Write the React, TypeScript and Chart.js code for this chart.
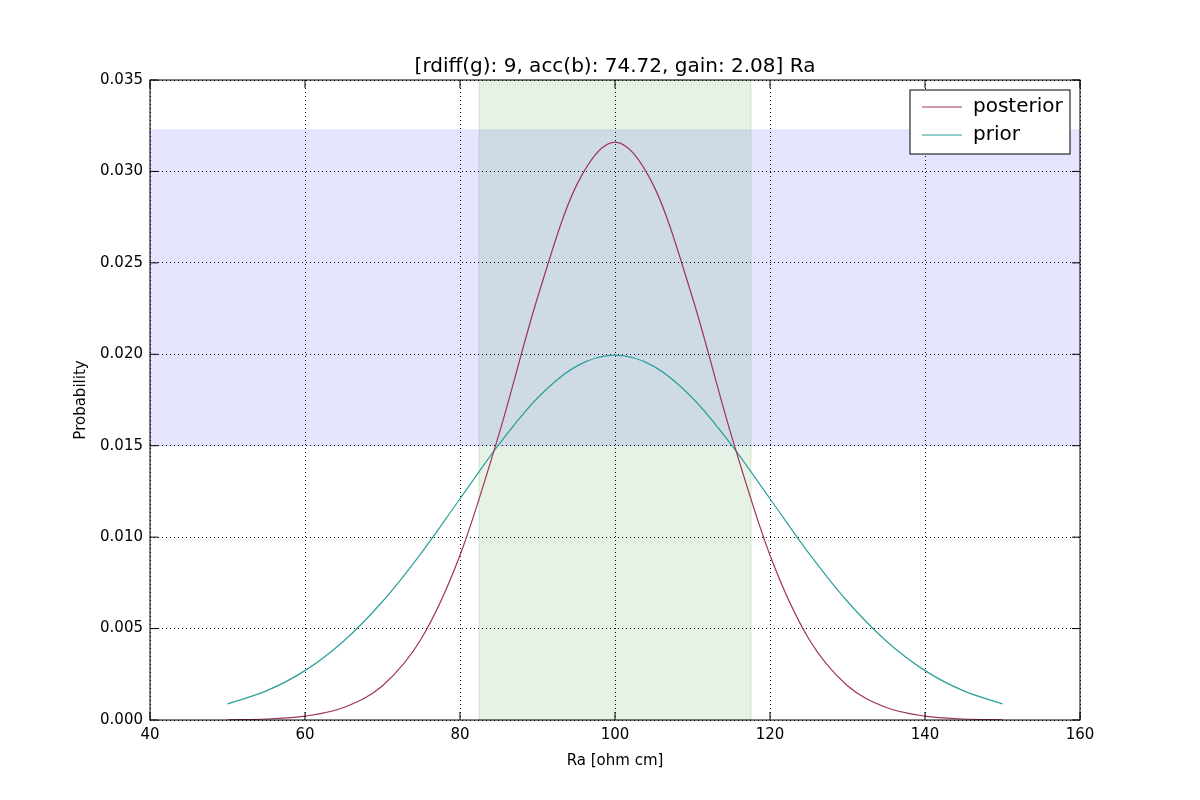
import { useEffect, useRef } from "react";
import { Chart, registerables } from "chart.js";

Chart.register(...registerables);

const xs = [50, 55, 60, 65, 70, 75, 80, 85, 90, 95, 100, 105, 110, 115, 120, 125, 130, 135, 140, 145, 150];
const posterior = [
  0.000012, 0.000055, 0.00021, 0.00068, 0.00187, 0.00444, 0.00901, 0.01559, 0.02309, 0.02921, 0.0316,
  0.02921, 0.02309, 0.01559, 0.00901, 0.00444, 0.00187, 0.00068, 0.00021, 0.000055, 0.000012,
];
const prior = [
  0.00088, 0.00159, 0.0027, 0.00432, 0.00648, 0.00913, 0.0121, 0.01506, 0.01761, 0.01934, 0.01995,
  0.01934, 0.01761, 0.01506, 0.0121, 0.00913, 0.00648, 0.00432, 0.0027, 0.00159, 0.00088,
];
const xBand = [82.45, 117.55];
const yBand = [0.015, 0.03227];
const titleText = "[rdiff(g): 9, acc(b): 74.72, gain: 2.08] Ra";

const FONT = "DejaVu Sans";

const bands = {
  id: "bands",
  beforeDatasetsDraw(chart: any) {
    const { ctx, chartArea: a, scales } = chart;
    const x = scales.x, y = scales.y;
    ctx.save();
    const yt = y.getPixelForValue(yBand[1]), yb = y.getPixelForValue(yBand[0]);
    ctx.fillStyle = "rgba(0,0,255,0.1)";
    ctx.fillRect(a.left, yt, a.right - a.left, yb - yt);
    ctx.strokeStyle = "rgba(0,0,255,0.1)";
    ctx.strokeRect(a.left, yt, a.right - a.left, yb - yt);
    const xl = x.getPixelForValue(xBand[0]), xr = x.getPixelForValue(xBand[1]);
    ctx.fillStyle = "rgba(0,128,0,0.1)";
    ctx.fillRect(xl, a.top, xr - xl, a.bottom - a.top);
    ctx.strokeStyle = "rgba(0,128,0,0.15)";
    ctx.strokeRect(xl, a.top, xr - xl, a.bottom - a.top);
    ctx.restore();
  },
  afterDraw(chart: any) {
    const { ctx, chartArea: a, scales } = chart;
    ctx.save();
    ctx.strokeStyle = "#000";
    ctx.lineWidth = 1;
    ctx.strokeRect(a.left, a.top, a.right - a.left, a.bottom - a.top);
    // inward ticks
    ctx.beginPath();
    scales.x.ticks.forEach((t: any) => {
      const px = scales.x.getPixelForValue(t.value);
      ctx.moveTo(px, a.bottom); ctx.lineTo(px, a.bottom - 8);
      ctx.moveTo(px, a.top); ctx.lineTo(px, a.top + 8);
    });
    scales.y.ticks.forEach((t: any) => {
      const py = scales.y.getPixelForValue(t.value);
      ctx.moveTo(a.left, py); ctx.lineTo(a.left + 8, py);
      ctx.moveTo(a.right, py); ctx.lineTo(a.right - 8, py);
    });
    ctx.stroke();
    // title
    ctx.fillStyle = "#000";
    ctx.font = `20px ${FONT}`;
    ctx.textAlign = "center";
    ctx.textBaseline = "bottom";
    ctx.fillText(titleText, (a.left + a.right) / 2, a.top - 3);
    // legend
    const lx = a.right - 170, ly = a.top + 10, lw = 160, lh = 64;
    ctx.fillStyle = "#fff";
    ctx.fillRect(lx, ly, lw, lh);
    ctx.strokeRect(lx, ly, lw, lh);
    ctx.font = `20px ${FONT}`;
    ctx.textAlign = "left";
    ctx.textBaseline = "middle";
    chart.data.datasets.forEach((d: any, i: number) => {
      const cy = ly + 17 + i * 28;
      ctx.strokeStyle = d.borderColor;
      ctx.beginPath();
      ctx.moveTo(lx + 12, cy); ctx.lineTo(lx + 52, cy);
      ctx.stroke();
      ctx.fillStyle = "#000";
      ctx.fillText(d.label, lx + 63, cy);
    });
    ctx.restore();
  },
};

export default function App() {
  const canvasRef = useRef<HTMLCanvasElement>(null);

  useEffect(() => {
    if (!canvasRef.current) return;
    const chart = new Chart(canvasRef.current, {
      type: "line",
      data: {
        labels: xs,
        datasets: [
          { label: "posterior", data: xs.map((x, i) => ({ x, y: posterior[i] })), borderColor: "#a0325a", borderWidth: 1.2, pointRadius: 0, cubicInterpolationMode: "monotone" },
          { label: "prior", data: xs.map((x, i) => ({ x, y: prior[i] })), borderColor: "#2ca09a", borderWidth: 1.2, pointRadius: 0, cubicInterpolationMode: "monotone" },
        ],
      },
      options: {
        animation: false,
        responsive: false,
        layout: { padding: { left: 70, right: 120, top: 80, bottom: 26 } },
        plugins: { legend: { display: false }, tooltip: { enabled: false } },
        scales: {
          x: {
            type: "linear", min: 40, max: 160,
            ticks: { stepSize: 20, color: "#000", font: { family: FONT, size: 15 }, padding: 6 },
            grid: { color: "#000", drawTicks: false } as any,
            border: { dash: [1, 3], display: false },
            title: { display: true, text: "Ra [ohm cm]", color: "#000", font: { family: FONT, size: 15 }, padding: { top: 2 } },
            afterFit: (s: any) => { s.height = 54; },
          },
          y: {
            min: 0, max: 0.035,
            ticks: { stepSize: 0.005, color: "#000", font: { family: FONT, size: 15 }, padding: 7, callback: (v: any) => Number(v).toFixed(3) },
            grid: { color: "#000", drawTicks: false },
            border: { dash: [1, 3], display: false },
            title: { display: true, text: "Probability", color: "#000", font: { family: FONT, size: 15 }, padding: 2 },
            afterFit: (s: any) => { s.width = 80; },
          },
        },
      },
      plugins: [bands],
    });
    return () => chart.destroy();
  }, []);

  return (
    <div style={{ position: "absolute", left: 0, top: 0, width: 1200, height: 800, background: "#fff" }}>
      <canvas ref={canvasRef} width={1200} height={800} />
    </div>
  );
}
